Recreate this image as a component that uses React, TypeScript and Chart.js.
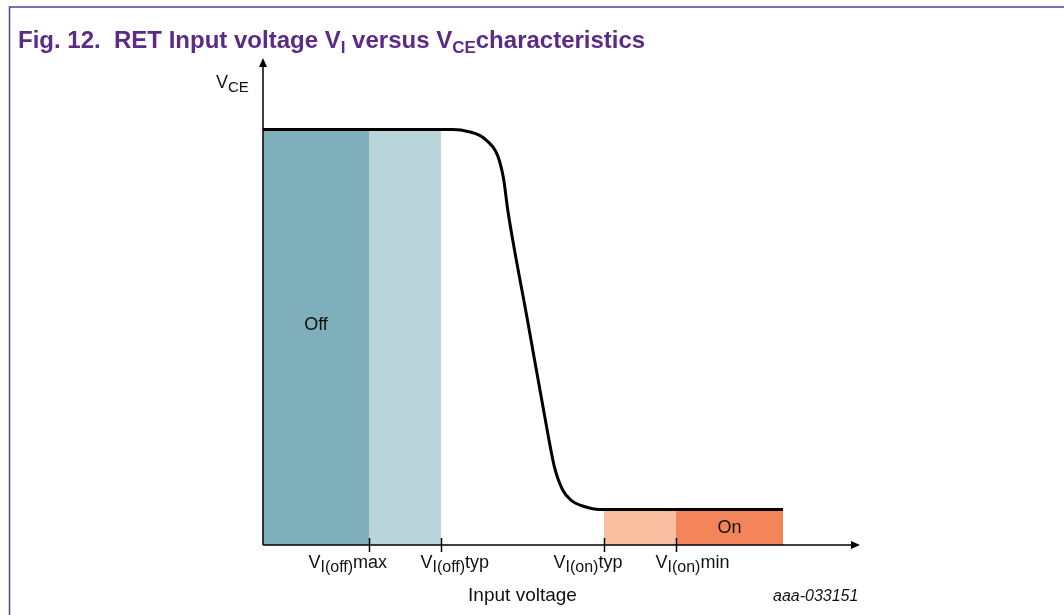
import React, { useEffect, useRef } from 'react';
import { Chart, registerables } from 'chart.js';

Chart.register(...registerables);

// ---- Data (arbitrary input-voltage units on x, V_CE units on y) ----
const curveX = [0, 30.5, 31.8, 34.7, 36.3, 37.7, 38.9, 39.6, 40.3, 41.0, 44.3, 47.6, 48.8, 50.2, 51.7, 53.8, 56.4, 87.1];
const curveY = [85.3, 85.3, 85.3, 84.8, 84.1, 82.8, 81.0, 78.9, 75.2, 68.8, 46.2, 23.6, 16.1, 11.3, 9.1, 7.9, 7.3, 7.3];

const tickValues = [17.755, 29.8, 57.1, 69.18];
const tickMain = ['V', 'V', 'V', 'V'];
const tickSub = ['I(off)', 'I(off)', 'I(on)', 'I(on)'];
const tickSuffix = ['max', 'typ', 'typ', 'min'];

const regionStart = [0, 17.755, 57.1, 69.18];
const regionEnd = [17.755, 29.8, 69.18, 87.1];
const regionLevel = [85.3, 85.3, 7.3, 7.3];
const regionLabels = ['Off', '', '', 'On'];

const xAxisTitle = 'Input voltage';
const yAxisMain = 'V';
const yAxisSub = 'CE';
const figureId = 'aaa-033151';

// ---- Styles ----
const regionColors = ['#7fafba', '#bad5da', '#f9bda0', '#f4845a'];
const FONT = '"Liberation Sans", Arial, sans-serif';
const TITLE_COLOR = '#5b2c86';
const FRAME_COLOR = '#5e3d90';
const tickLabelDx = [-61, -21, -51, -21];
const regionLabelDy = [-12, -1, 0, 1];

type Part = { text: string; size: number; bold?: boolean; italic?: boolean; dy?: number };

function drawRich(ctx: CanvasRenderingContext2D, x: number, y: number, parts: Part[], color: string, align: 'left' | 'center' = 'left') {
  const fontOf = (p: Part) => `${p.italic ? 'italic ' : ''}${p.bold ? 'bold ' : ''}${p.size}px ${FONT}`;
  let total = 0;
  for (const p of parts) {
    ctx.font = fontOf(p);
    total += ctx.measureText(p.text).width;
  }
  let cx = align === 'center' ? x - total / 2 : x;
  ctx.fillStyle = color;
  ctx.textAlign = 'left';
  ctx.textBaseline = 'alphabetic';
  for (const p of parts) {
    ctx.font = fontOf(p);
    ctx.fillText(p.text, cx, y + (p.dy || 0));
    cx += ctx.measureText(p.text).width;
  }
}

const decorPlugin = {
  id: 'decor',
  afterDraw(chart: any) {
    const ctx: CanvasRenderingContext2D = chart.ctx;
    const xs = chart.scales.x;
    const ys = chart.scales.y;
    const area = chart.chartArea;
    const x0 = xs.getPixelForValue(0);
    const y0 = ys.getPixelForValue(0);
    ctx.save();

    // frame
    ctx.strokeStyle = FRAME_COLOR;
    ctx.lineWidth = 1.5;
    ctx.beginPath();
    ctx.moveTo(9.5, 615);
    ctx.lineTo(9.5, 7);
    ctx.lineTo(1064, 7);
    ctx.stroke();

    // title
    drawRich(ctx, 18, 48, [
      { text: 'Fig. 12.  RET Input voltage V', size: 24, bold: true },
      { text: 'I', size: 17, bold: true, dy: 5 },
      { text: ' versus V', size: 24, bold: true },
      { text: 'CE', size: 17, bold: true, dy: 5 },
      { text: 'characteristics', size: 24, bold: true },
    ], TITLE_COLOR);

    // axes
    ctx.strokeStyle = '#000';
    ctx.fillStyle = '#000';
    ctx.lineWidth = 1.5;
    ctx.beginPath();
    ctx.moveTo(x0, y0);
    ctx.lineTo(x0, area.top + 6);
    ctx.moveTo(x0, y0);
    ctx.lineTo(area.right - 6, y0);
    ctx.stroke();
    ctx.beginPath();
    ctx.moveTo(x0, area.top);
    ctx.lineTo(x0 - 4, area.top + 9);
    ctx.lineTo(x0 + 4, area.top + 9);
    ctx.closePath();
    ctx.fill();
    ctx.beginPath();
    ctx.moveTo(area.right, y0);
    ctx.lineTo(area.right - 9, y0 - 4);
    ctx.lineTo(area.right - 9, y0 + 4);
    ctx.closePath();
    ctx.fill();

    // ticks + labels
    tickValues.forEach((v, i) => {
      const px = Math.round(xs.getPixelForValue(v)) + 0.5;
      ctx.strokeStyle = '#000';
      ctx.lineWidth = 1.5;
      ctx.beginPath();
      ctx.moveTo(px, y0 - 7);
      ctx.lineTo(px, y0 + 7);
      ctx.stroke();
      drawRich(ctx, px + tickLabelDx[i], y0 + 23, [
        { text: tickMain[i], size: 18 },
        { text: tickSub[i], size: 16, dy: 4 },
        { text: tickSuffix[i], size: 18 },
      ], '#111');
    });

    // y axis label
    drawRich(ctx, x0 - 47, area.top + 30, [
      { text: yAxisMain, size: 18 },
      { text: yAxisSub, size: 15, dy: 4 },
    ], '#111');

    // x axis title
    drawRich(ctx, (xs.getPixelForValue(0) + xs.getPixelForValue(87.1)) / 2 - 0.5, y0 + 56, [
      { text: xAxisTitle, size: 19 },
    ], '#111', 'center');

    // figure id
    drawRich(ctx, area.right - 87, y0 + 56, [{ text: figureId, size: 16, italic: true }], '#111');

    // region labels
    regionLabels.forEach((lab, i) => {
      if (!lab) return;
      const cx = (xs.getPixelForValue(regionStart[i]) + xs.getPixelForValue(regionEnd[i])) / 2;
      const cy = (ys.getPixelForValue(regionLevel[i]) + y0) / 2 + regionLabelDy[i];
      ctx.font = `18px ${FONT}`;
      ctx.fillStyle = '#111';
      ctx.textAlign = 'center';
      ctx.textBaseline = 'middle';
      ctx.fillText(lab, cx, cy);
    });

    ctx.restore();
  },
};

export default function App() {
  const ref = useRef<HTMLCanvasElement | null>(null);
  useEffect(() => {
    if (!ref.current) return;
    const regionSets = regionStart.map((s, i) => ({
      type: 'line' as const,
      data: [
        { x: s, y: regionLevel[i] },
        { x: regionEnd[i], y: regionLevel[i] },
      ],
      borderWidth: 0,
      borderColor: 'rgba(0,0,0,0)',
      backgroundColor: regionColors[i],
      fill: 'origin',
      pointRadius: 0,
      order: 2,
    }));
    const chart = new Chart(ref.current, {
      type: 'line',
      data: {
        datasets: [
          {
            data: curveX.map((x, i) => ({ x, y: curveY[i] })),
            borderColor: '#000',
            borderWidth: 3,
            pointRadius: 0,
            fill: false,
            cubicInterpolationMode: 'monotone',
            order: 0,
          } as any,
          ...(regionSets as any[]),
        ],
      },
      options: {
        responsive: false,
        devicePixelRatio: 1,
        animation: false,
        layout: { padding: { left: 263, right: 204, top: 58, bottom: 70 } },
        scales: {
          x: { type: 'linear', min: 0, max: 100, display: false },
          y: { type: 'linear', min: 0, max: 100, display: false },
        },
        plugins: { legend: { display: false }, tooltip: { enabled: false }, title: { display: false } },
      },
      plugins: [decorPlugin],
    });
    return () => chart.destroy();
  }, []);
  return (
    <div style={{ position: 'absolute', left: 0, top: 0, width: 1064, height: 615, background: '#fff' }}>
      <canvas ref={ref} width={1064} height={615} style={{ display: 'block' }} />
    </div>
  );
}
